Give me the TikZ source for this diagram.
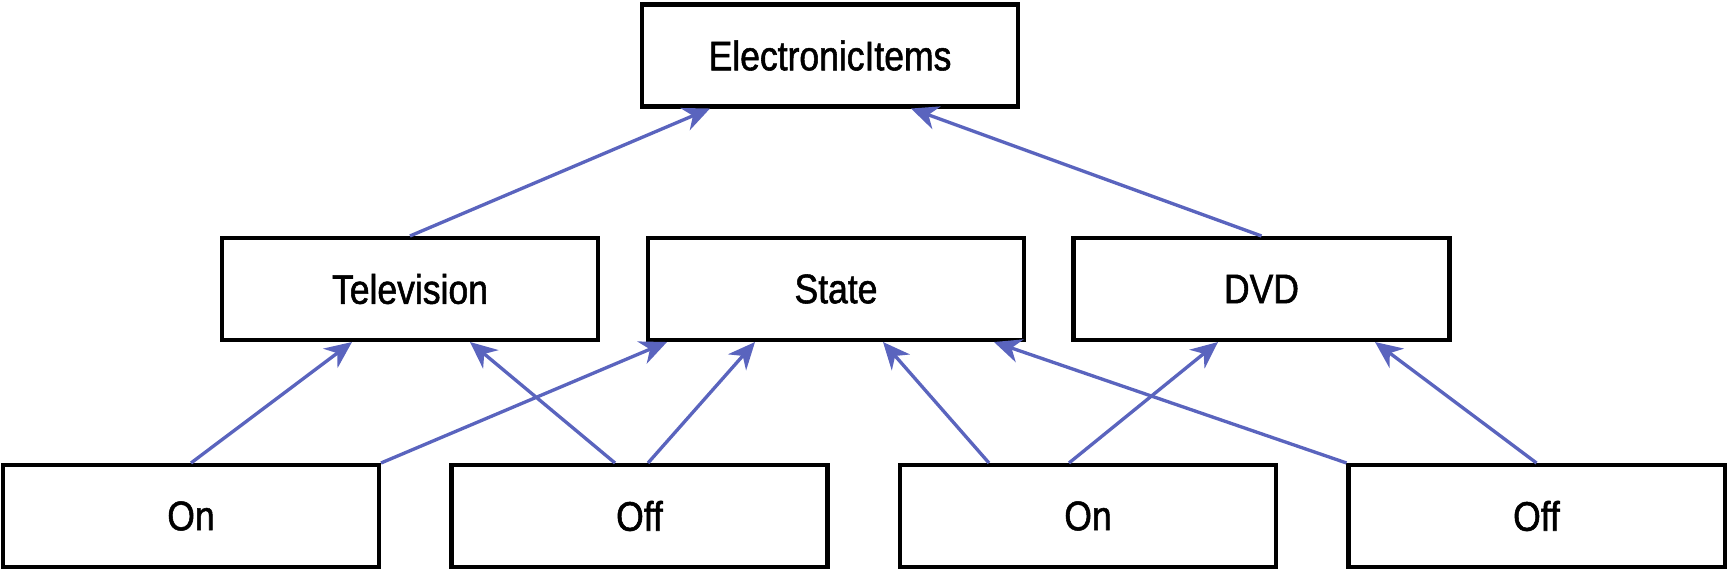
\documentclass[tikz,border=0pt]{standalone}
\usepackage{fontspec}
\setmainfont{Liberation Sans}[FakeStretch=0.86, FakeBold=1.3]
\usetikzlibrary{arrows.meta}
\definecolor{linkblue}{RGB}{90,100,190}
\begin{document}
\begin{tikzpicture}[
    item/.style={rectangle, draw=black, line width=2.3pt, fill=white,
                 minimum width=7.52cm, minimum height=2.04cm,
                 font=\fontsize{23.5}{27}\selectfont},
    link/.style={-{Stealth[length=0.54cm, width=0.48cm, inset=0.17cm]},
                 line width=1.9pt, linkblue},
]
\useasboundingbox (0,0) rectangle (34.58,11.42);

% Nodes -- three rows
\node[item] (ei)    at (16.6, 10.31) {ElectronicItems};
\node[item] (tv)    at (8.2, 5.64)   {Television};
\node[item] (state) at (16.72, 5.64) {State};
\node[item] (dvd)   at (25.23, 5.64) {DVD};
\node[item] (on1)   at (3.82, 1.10)  {On};
\node[item] (off1)  at (12.79, 1.10) {Off};
\node[item] (on2)   at (21.76, 1.10) {On};
\node[item] (off2)  at (30.73, 1.10) {Off};

% Upper links
\draw[link] (tv.north) -- ([xshift=-2.4cm]ei.south);
\draw[link] (dvd.north) -- ([xshift=1.62cm]ei.south);

% Lower links
\draw[link] (on1.north) -- ([xshift=-1.16cm]tv.south);
\draw[link] (on1.north east) -- ([xshift=-3.38cm]state.south);
\draw[link] ([xshift=-0.49cm]off1.north) -- ([xshift=1.2cm]tv.south);
\draw[link] ([xshift=0.17cm]off1.north) -- ([xshift=-1.62cm]state.south);
\draw[link] ([xshift=-1.98cm]on2.north) -- ([xshift=0.94cm]state.south);
\draw[link] ([xshift=-0.38cm]on2.north) -- ([xshift=-0.87cm]dvd.south);
\draw[link] (off2.north west) -- ([xshift=3.16cm]state.south);
\draw[link] (off2.north) -- ([xshift=2.27cm]dvd.south);

\end{tikzpicture}
\end{document}
